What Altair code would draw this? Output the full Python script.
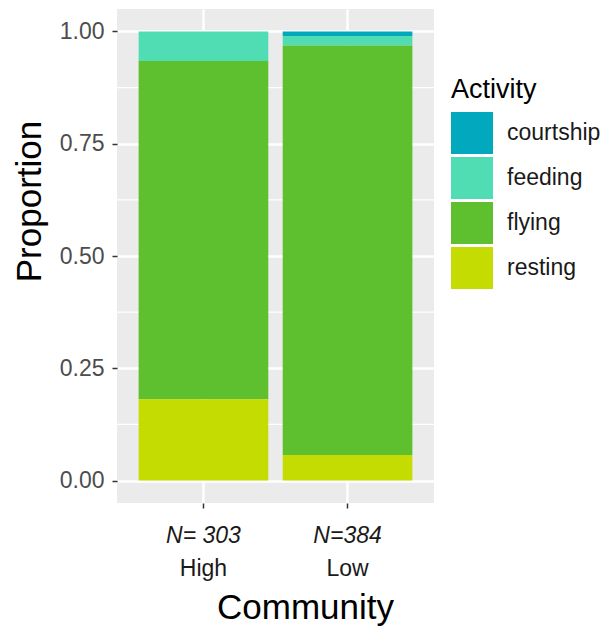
import altair as alt
import pandas as pd

communities = ["High", "Low"]
n_labels = ["N= 303", "N=384"]
activities = ["courtship", "feeding", "flying", "resting"]
colors = ["#02A9BE", "#50DDB4", "#5EBF2F", "#C5DC03"]
high_props = [0.0, 0.066, 0.753, 0.181]
low_props = [0.010, 0.021, 0.912, 0.057]
stack_rank = [4, 3, 2, 1]
y_ticks = [0.0, 0.25, 0.5, 0.75, 1.0]
y_minor = [0.125, 0.375, 0.625, 0.875]

rows = []
for comm, props in zip(communities, [high_props, low_props]):
    for act, p, r in zip(activities, props, stack_rank):
        rows.append({"Community": comm, "Activity": act, "Proportion": p, "rank": r})
df = pd.DataFrame(rows)
ndf = pd.DataFrame({"Community": communities, "label": n_labels})
minor_df = pd.DataFrame({"y": y_minor})

FONT = "Liberation Sans"

xscale = alt.Scale(domain=communities, paddingInner=0.1, paddingOuter=0.15)
yscale = alt.Scale(domain=[-0.05, 1.05], nice=False, zero=False)

minor = alt.Chart(minor_df).mark_rule(color="white", strokeWidth=1.2).encode(
    y=alt.Y("y:Q", scale=yscale),
    x=alt.value(0), x2=alt.value(317),
)

bars = alt.Chart(df).mark_bar().encode(
    x=alt.X("Community:N", scale=xscale, sort=communities,
            axis=alt.Axis(title="Community", labelAngle=0, labelFontSize=23,
                          labelColor="#1A1A1A", labelPadding=49,
                          tickSize=5, tickColor="#333333", tickWidth=1.5,
                          domain=False, grid=True, gridColor="white",
                          gridWidth=2.5, bandPosition=0.5,
                          titleFontSize=35, titleFontWeight="normal",
                          titleColor="black", titleX=188, titleY=104,
                          titleBaseline="middle", titleAlign="center")),
    y=alt.Y("Proportion:Q", scale=yscale, stack="zero",
            axis=alt.Axis(title="Proportion", values=y_ticks, format=".2f",
                          labelFontSize=23, labelColor="#4D4D4D",
                          labelPadding=8, tickSize=5, tickColor="#333333",
                          tickWidth=1.5, domain=False, grid=True,
                          gridColor="white", gridWidth=2.5,
                          titleFontSize=35, titleFontWeight="normal",
                          titleColor="black", titleX=-88, titleY=192,
                          titleAngle=-90, titleBaseline="middle",
                          titleAlign="center")),
    color=alt.Color("Activity:N",
                    scale=alt.Scale(domain=activities, range=colors),
                    legend=alt.Legend(title="Activity", orient="none",
                                      legendX=334, legendY=68,
                                      symbolType="square", symbolSize=1764,
                                      symbolStrokeWidth=0, symbolOpacity=1,
                                      rowPadding=3, labelOffset=14,
                                      labelFontSize=23, labelColor="#1A1A1A",
                                      titleFontSize=27, titleFontWeight="normal",
                                      titleColor="black", titlePadding=8,
                                      padding=0)),
    order=alt.Order("rank:Q", sort="ascending"),
)

nlab = alt.Chart(ndf).mark_text(fontStyle="italic", fontSize=23, color="#1A1A1A",
                                 baseline="middle", font=FONT).encode(
    x=alt.X("Community:N", scale=xscale, sort=communities),
    y=alt.value(527),
    text="label:N",
)

chart = alt.layer(minor, bars, nlab).properties(
    width=317, height=494,
    autosize=alt.AutoSizeParams(type="none"),
    padding={"left": 109, "top": 1, "right": 170, "bottom": 140},
).configure(
    font=FONT,
    view=alt.ViewConfig(fill="#EBEBEB", stroke=None),
)

chart.save("out.html", embed_options={"renderer": "svg", "actions": False})
